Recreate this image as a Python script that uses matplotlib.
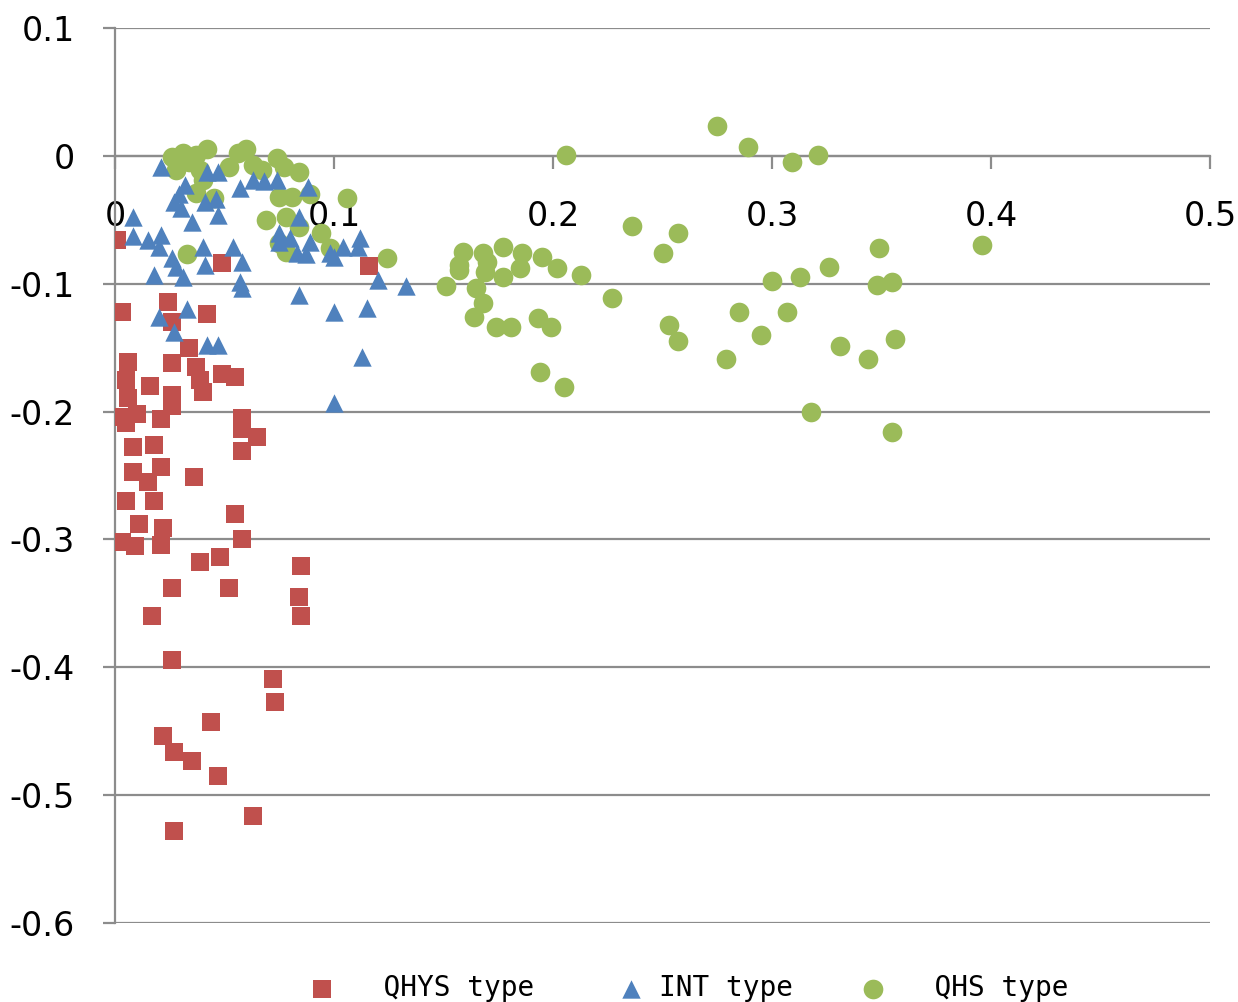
import numpy as np
import matplotlib
matplotlib.use("Agg")
import matplotlib.pyplot as plt

plt.rcParams['axes.unicode_minus'] = False

# QHYS type (red squares)
qhys_x = [0.001, 0.049, 0.116, 0.003, 0.024, 0.026, 0.042, 0.034, 0.006, 0.026,
          0.037, 0.005, 0.016, 0.039, 0.049, 0.055, 0.026, 0.040, 0.006, 0.026,
          0.004, 0.010, 0.005, 0.021, 0.058, 0.058, 0.065, 0.008, 0.018, 0.058,
          0.008, 0.021, 0.015, 0.036, 0.005, 0.018, 0.055, 0.011, 0.022, 0.003,
          0.009, 0.021, 0.058, 0.039, 0.048, 0.085, 0.026, 0.052, 0.084, 0.085,
          0.017, 0.026, 0.072, 0.073, 0.044, 0.022, 0.027, 0.035, 0.047, 0.063,
          0.027]
qhys_y = [-0.066, -0.084, -0.086, -0.122, -0.114, -0.130, -0.124, -0.150, -0.161, -0.162,
          -0.165, -0.175, -0.180, -0.175, -0.171, -0.173, -0.187, -0.185, -0.189, -0.196,
          -0.204, -0.202, -0.209, -0.206, -0.205, -0.214, -0.220, -0.228, -0.226, -0.231,
          -0.247, -0.243, -0.255, -0.251, -0.270, -0.270, -0.280, -0.288, -0.291, -0.302,
          -0.305, -0.304, -0.300, -0.318, -0.314, -0.321, -0.338, -0.338, -0.345, -0.360,
          -0.360, -0.394, -0.409, -0.427, -0.443, -0.454, -0.466, -0.473, -0.485, -0.516,
          -0.528]

# INT type (blue triangles)
int_x = [0.021, 0.042, 0.047, 0.057, 0.063, 0.068, 0.074, 0.088, 0.032, 0.029,
         0.027, 0.030, 0.041, 0.046, 0.047, 0.035, 0.008, 0.008, 0.015, 0.021,
         0.020, 0.018, 0.026, 0.028, 0.031, 0.040, 0.041, 0.054, 0.058, 0.057,
         0.058, 0.075, 0.080, 0.084, 0.089, 0.083, 0.087, 0.075, 0.098, 0.100,
         0.104, 0.112, 0.111, 0.120, 0.133, 0.084, 0.100, 0.115, 0.033, 0.020,
         0.027, 0.042, 0.047, 0.113, 0.100]
int_y = [-0.009, -0.013, -0.013, -0.025, -0.019, -0.020, -0.019, -0.024, -0.023, -0.030,
         -0.036, -0.041, -0.036, -0.034, -0.046, -0.052, -0.048, -0.063, -0.066, -0.062,
         -0.071, -0.093, -0.080, -0.087, -0.095, -0.071, -0.085, -0.071, -0.083, -0.099,
         -0.103, -0.060, -0.064, -0.048, -0.067, -0.076, -0.077, -0.067, -0.076, -0.079,
         -0.071, -0.064, -0.071, -0.097, -0.102, -0.109, -0.122, -0.119, -0.120, -0.126,
         -0.138, -0.148, -0.148, -0.157, -0.193]

# QHS type (green circles)
qhs_x = [0.026, 0.031, 0.037, 0.042, 0.028, 0.034, 0.039, 0.040, 0.045, 0.037,
         0.052, 0.056, 0.060, 0.063, 0.067, 0.074, 0.077, 0.084, 0.075, 0.081,
         0.089, 0.106, 0.069, 0.078, 0.084, 0.094, 0.075, 0.078, 0.033, 0.098,
         0.124, 0.151, 0.159, 0.157, 0.157, 0.168, 0.170, 0.169, 0.177, 0.177,
         0.165, 0.168, 0.164, 0.174, 0.181, 0.186, 0.185, 0.195, 0.202, 0.213,
         0.227, 0.236, 0.193, 0.199, 0.194, 0.205, 0.206, 0.275, 0.289, 0.309,
         0.321, 0.257, 0.250, 0.300, 0.313, 0.326, 0.349, 0.348, 0.355, 0.396,
         0.285, 0.307, 0.253, 0.257, 0.295, 0.279, 0.331, 0.344, 0.356, 0.318,
         0.355]
qhs_y = [-0.001, 0.002, 0.001, 0.005, -0.011, -0.005, -0.011, -0.019, -0.033, -0.029,
         -0.009, 0.002, 0.005, -0.007, -0.011, -0.002, -0.009, -0.013, -0.032, -0.032,
         -0.030, -0.033, -0.050, -0.048, -0.056, -0.060, -0.068, -0.075, -0.077, -0.072,
         -0.080, -0.102, -0.075, -0.085, -0.089, -0.076, -0.083, -0.091, -0.071, -0.095,
         -0.103, -0.115, -0.126, -0.134, -0.134, -0.076, -0.088, -0.079, -0.088, -0.093,
         -0.111, -0.055, -0.127, -0.134, -0.169, -0.181, 0.001, 0.023, 0.007, -0.005,
         0.001, -0.060, -0.076, -0.098, -0.095, -0.087, -0.072, -0.101, -0.099, -0.070,
         -0.122, -0.122, -0.132, -0.145, -0.140, -0.159, -0.149, -0.159, -0.143, -0.200,
         -0.216]

x_ticks = [0, 0.1, 0.2, 0.3, 0.4, 0.5]
x_labels = ['0', '0.1', '0.2', '0.3', '0.4', '0.5']
y_ticks = [0.1, 0, -0.1, -0.2, -0.3, -0.4, -0.5, -0.6]
y_labels = ['0.1', '0', '-0.1', '-0.2', '-0.3', '-0.4', '-0.5', '-0.6']

red = '#C0504D'
blue = '#4F81BD'
green = '#9BBB59'
grey = '#8C8C8C'

fig = plt.figure(figsize=(12.38, 10.02), dpi=100)
ax = fig.add_axes([115/1238, 1 - 923/1002, 1095/1238, 895/1002])

# Plot series (green behind, triangles on top)
h_g = ax.scatter(qhs_x, qhs_y, s=200, marker='o', color=green, linewidths=0, zorder=3)
h_r = ax.scatter(qhys_x, qhys_y, s=155, marker='s', color=red, linewidths=0, zorder=4)
h_b = ax.scatter(int_x, int_y, s=175, marker='^', color=blue, linewidths=0, zorder=5)

ax.set_xlim(0, 0.5)
ax.set_ylim(-0.6, 0.1)

# Gridlines
ax.set_yticks(y_ticks)
ax.set_yticklabels(y_labels)
ax.yaxis.grid(True, color=grey, linewidth=1.6)
ax.set_axisbelow(True)

ax.set_xticks(x_ticks)
ax.set_xticklabels(x_labels)

# Spines: x axis crosses at y=0
ax.spines['top'].set_visible(False)
ax.spines['right'].set_visible(False)
ax.spines['bottom'].set_position(('data', 0))
ax.spines['bottom'].set_color(grey)
ax.spines['left'].set_color(grey)
ax.spines['bottom'].set_linewidth(1.6)
ax.spines['left'].set_linewidth(1.6)

ax.tick_params(axis='x', direction='out', length=9, width=1.6, color=grey,
               labelsize=24, pad=23)
ax.tick_params(axis='y', direction='out', length=9, width=1.6, color=grey,
               labelsize=24, pad=20)

# Legend
leg = fig.legend([h_r, h_b, h_g], ['  QHYS type ', 'INT type', '  QHS type'],
                 loc='center', bbox_to_anchor=(0.556, 1 - 988/1002), ncol=3,
                 frameon=False, prop={'family': 'DejaVu Sans Mono', 'size': 20},
                 handletextpad=0.5, columnspacing=2.4, handlelength=1.0,
                 scatterpoints=1)

fig.savefig('out.png', dpi=100)
